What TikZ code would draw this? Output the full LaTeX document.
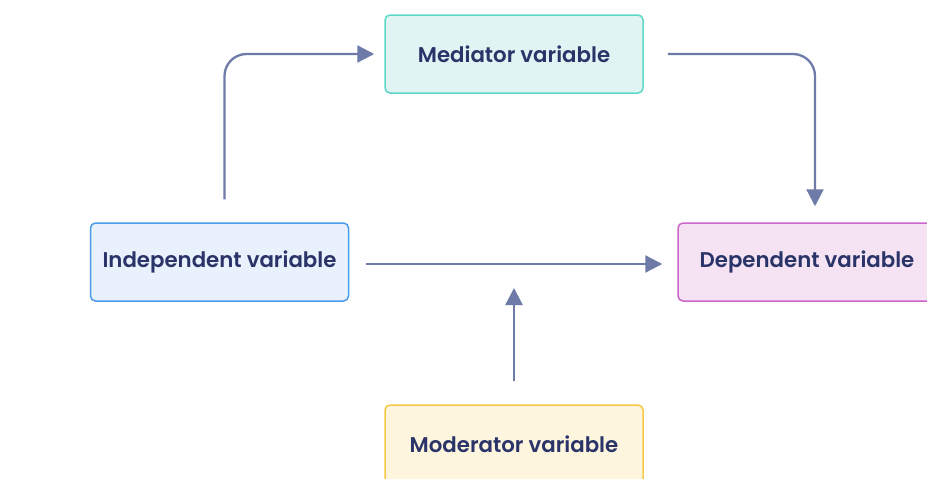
\documentclass[tikz,border=0pt]{standalone}
\usepackage{fontspec}
\setmainfont{Poppins}[BoldFont={Poppins SemiBold}]
\usetikzlibrary{arrows.meta}
\usetikzlibrary{positioning}
\definecolor{txtnavy}{HTML}{2A3468}
\definecolor{arrowgray}{HTML}{6E7AA8}
\definecolor{medfill}{HTML}{E0F5F3}
\definecolor{medline}{HTML}{5ED8C6}
\definecolor{indfill}{HTML}{E8F1FC}
\definecolor{indline}{HTML}{4A9BEA}
\definecolor{depfill}{HTML}{F5E3F3}
\definecolor{depline}{HTML}{CC66CC}
\definecolor{modfill}{HTML}{FDF5DE}
\definecolor{modline}{HTML}{F6C944}
\tikzset{
  varbox/.style={
    rectangle, rounded corners=5pt, line width=1.5pt,
    minimum width=258pt, minimum height=78pt,
    font=\fontsize{21.3}{24}\selectfont\bfseries, text=txtnavy
  },
  arrow/.style={-{Triangle[length=17pt,width=17pt]}, line width=2.3pt,
    draw=arrowgray, rounded corners=22pt}
}
\begin{document}
\begin{tikzpicture}[x=1pt,y=1pt]

    \useasboundingbox (0,0) rectangle (927,-479);
    \node [varbox, fill=medfill, draw=medline] (med) at (514,-54)
          {\raisebox{-2pt}{Mediator variable}};
    \node [varbox, fill=indfill, draw=indline] (ind) at (219.5,-262)
          {\raisebox{-2pt}{Independent variable}};
    \node [varbox, fill=depfill, draw=depline] (dep) at (807,-262)
          {\raisebox{-2pt}{Dependent variable}};
    \node [varbox, fill=modfill, draw=modline] (mod) at (514,-444)
          {\raisebox{-2pt}{Moderator variable}};
    \coordinate (junc) at ([yshift=-2pt]mod.north |- ind.east);

    \draw [arrow, shorten <=23pt, shorten >=10pt]
          ([xshift=5pt]ind.north) |- (med.west);
    \draw [arrow, shorten <=24pt, shorten >=16pt]
          (med.east) -| ([xshift=8pt]dep.north);
    \draw [arrow, shorten <=17pt, shorten >=15pt]
          ([yshift=-2pt]ind.east) -- ([yshift=-2pt]dep.west);
    \draw [arrow, shorten <=23pt, shorten >=24pt] (mod.north) -- (junc);
\end{tikzpicture}
\end{document}
